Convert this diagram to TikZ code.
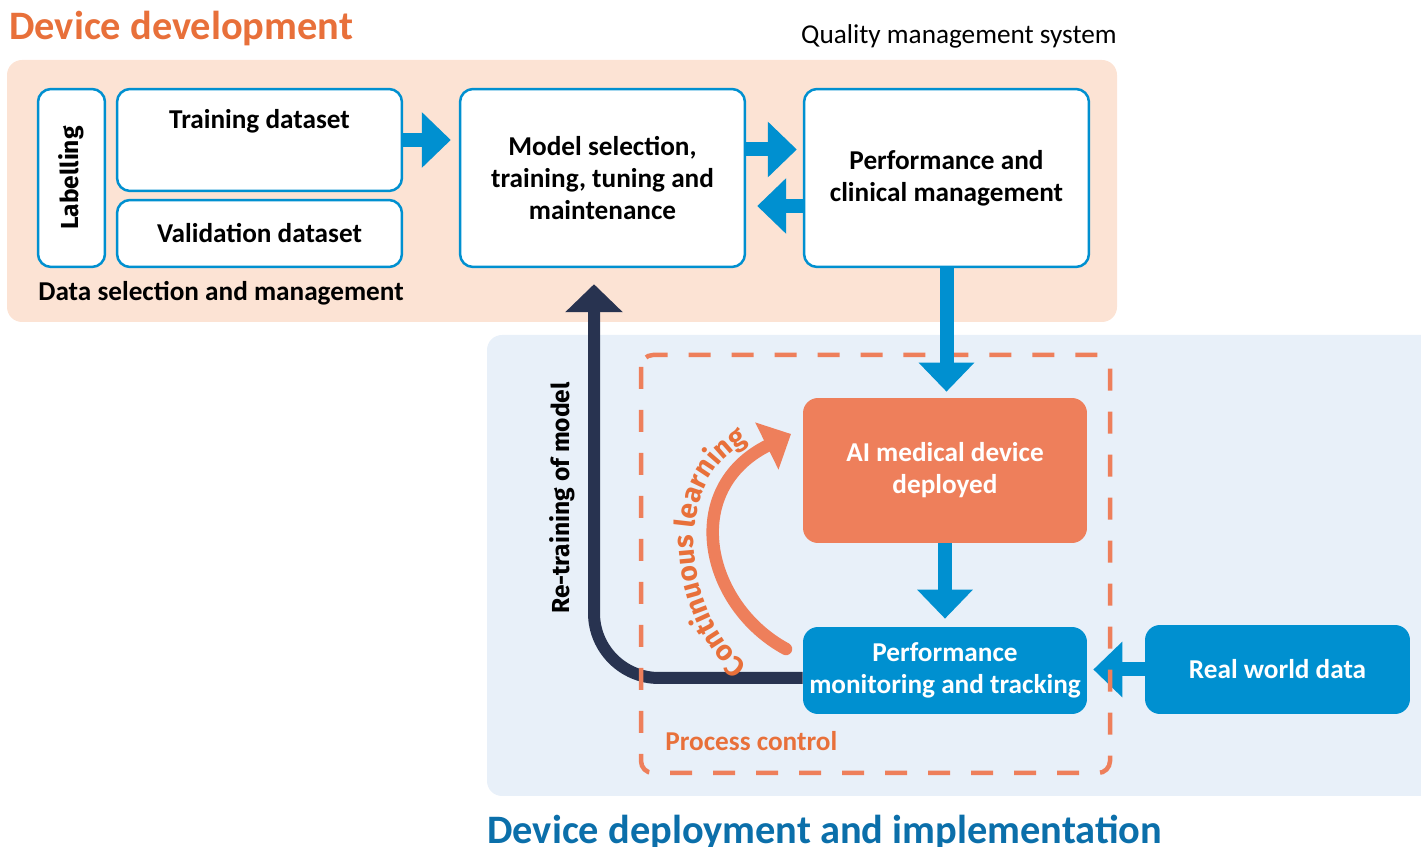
\documentclass[tikz,border=0pt]{standalone}
\usepackage{fontspec}
\setmainfont{Carlito}
\newfontfamily\firafont{Fira Sans}
\usetikzlibrary{arrows.meta, calc, decorations.text}

\definecolor{devorange}{HTML}{E8703A}
\definecolor{aiorange}{HTML}{EE7F5B}
\definecolor{peach}{HTML}{FCE3D4}
\definecolor{paleblue}{HTML}{E8F0F9}
\definecolor{boxblue}{HTML}{0090D0}
\definecolor{navy}{HTML}{283350}
\definecolor{deployblue}{HTML}{0B6FAA}

\tikzset{
  boxtext/.style={font=\bfseries\fontsize{15.5}{18.2}\selectfont},
  panel/.style={draw=boxblue, line width=0.05cm, fill=white, rounded corners=0.26cm,
    align=center, inner sep=0pt, boxtext},
  solidbox/.style={fill=#1, rounded corners=0.3cm, text=white, align=center,
    inner sep=0pt, boxtext},
  flowarrow/.style={draw=boxblue, line width=0.28cm, -{Triangle[length=0.58cm, width=1.08cm]}},
  retrain/.style={draw=navy, line width=0.24cm, rounded corners=1.3cm,
    -{Triangle[length=0.56cm, width=1.12cm]}},
  learnarrow/.style={draw=aiorange, line width=0.25cm, line cap=round,
    -{Triangle[length=0.54cm, width=1.02cm]}},
  bigtitle/.style={anchor=base west, inner sep=0pt, font=\bfseries\fontsize{23}{27}\selectfont},
}

\begin{document}
\begin{tikzpicture}[x=0.02cm, y=-0.02cm]
    \useasboundingbox (0,0) rectangle (1421,847);
    % Backgrounds
    \fill[peach, rounded corners=0.3cm] (7,60) rectangle (1117,322);
    \fill[paleblue, rounded corners=0.3cm] (487,335) rectangle (1460,796);

    % Titles
    \node[bigtitle, text=devorange] (devtitle) at (9,40) {Device development};
    \node[bigtitle, text=deployblue] (deploytitle) at (487,844) {Device deployment and implementation};
    \node[anchor=base east, inner sep=0pt, font=\fontsize{15.5}{18}\selectfont] (qms) at (1117,44) {Quality management system};

    % Device development boxes
    \node[panel, rotate=90, minimum width=3.56cm, minimum height=1.34cm,
      font=\firafont\bfseries\fontsize{14}{16}\selectfont] (label) at (71.5,178) {Labelling};
    \node[panel, minimum width=5.7cm, minimum height=2.04cm] (train) at (259.5,140) {};
    \node[anchor=base, boxtext] (traintext) at (259.5,129) {Training dataset};
    \node[panel, minimum width=5.7cm, minimum height=1.34cm] (valid) at (259.5,233.5) {Validation dataset};
    \node[panel, minimum width=5.7cm, minimum height=3.56cm] (model) at (602.5,178)
      {Model selection,\\training, tuning and\\maintenance};
    \node[panel, minimum width=5.7cm, minimum height=3.56cm] (perf) at (946.5,178)
      {Performance and\\clinical management};
    \node[anchor=base west, inner sep=0pt, boxtext] (datasel) at (38,301) {Data selection and management};

    % Deployment boxes
    \node[solidbox=aiorange, minimum width=5.68cm, minimum height=2.9cm] (ai) at (945,470.5)
      {AI medical device\\deployed};
    \node[solidbox=boxblue, minimum width=5.68cm, minimum height=1.74cm] (pm) at (945,670.5)
      {Performance\\monitoring and tracking};
    \node[solidbox=boxblue, minimum width=5.3cm, minimum height=1.78cm] (rw) at (1277.5,669.5)
      {Real world data};

    % Re-training loop
    \draw[retrain, shorten >=0.32cm] ($(pm.west)+(0,7.5)$) -| ($(model.south)+(-8.5,0)$);
    \node[rotate=90, inner sep=0pt, font=\firafont\bfseries\fontsize{14}{16}\selectfont]
      (retraintext) at (562,498) {Re-training of model};

    % Arrows
    \draw[flowarrow, shorten >=0.16cm] (train.east) -- (train.east -| model.west);
    \draw[flowarrow, shorten >=0.12cm] ($(model.east)+(0,-28.5)$) coordinate (mp) -- (mp -| perf.west);
    \draw[flowarrow, shorten >=0.22cm] ($(perf.west)+(0,28)$) coordinate (pm2) -- (pm2 -| model.east);
    \draw[flowarrow, shorten >=0.16cm] (ai.south) -- (ai.south |- pm.north);
    \draw[flowarrow, shorten >=0.12cm] (rw.west) -- (rw.west -| pm.east);

    % Process control
    \draw[aiorange, line width=0.09cm, rounded corners=0.24cm, dash pattern=on 0.44cm off 0.42cm]
      (641,355) rectangle (1110,773);
    \node[anchor=base west, inner sep=0pt, text=devorange, boxtext] (proc) at (665,751) {Process control};
    \draw[flowarrow, shorten >=0.12cm] (perf.south) -- (perf.south |- ai.north);

    % Continuous learning
    \draw[learnarrow] (786,649) .. controls (705,605) and (680,489) .. (791,434);
    \path[decorate, decoration={text along path, text align=center,
      text={|\firafont\bfseries\fontsize{16}{18}\selectfont\color{devorange}|Continuous learning}}]
      (752,668) .. controls (688,625) and (662,480) .. (752,440);
\end{tikzpicture}
\end{document}
